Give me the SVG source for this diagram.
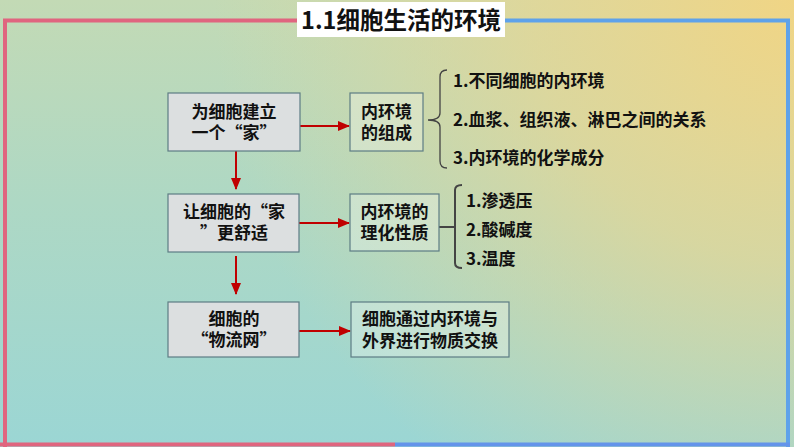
<svg xmlns="http://www.w3.org/2000/svg" width="794" height="447" viewBox="0 0 794 447">
<defs>
<linearGradient id="bg" x1="0" y1="0" x2="0" y2="1">
<stop offset="0" stop-color="#c3dab5"/>
<stop offset="0.45" stop-color="#aed8c4"/>
<stop offset="1" stop-color="#9bd6d4"/>
</linearGradient>
<radialGradient id="yel" cx="794" cy="0" r="580" gradientUnits="userSpaceOnUse">
<stop offset="0" stop-color="#f0d585" stop-opacity="1"/>
<stop offset="0.45" stop-color="#ead690" stop-opacity="0.7"/>
<stop offset="1" stop-color="#e2d79a" stop-opacity="0"/>
</radialGradient>
<marker id="ah" markerWidth="12" markerHeight="10" refX="11" refY="5" orient="auto" markerUnits="userSpaceOnUse">
<path d="M0,0 L12,5 L0,10 Z" fill="#c00000"/>
</marker>
<style>
.t{font-family:"Noto Sans CJK SC","Liberation Sans",sans-serif;font-weight:bold;fill:#111;}
.n{font-size:17px;text-anchor:middle;}
.i{font-size:17px;}
.b1{fill:#dcdfe0;stroke:#5d7c84;stroke-width:1.2;}
.b2{fill:#ffffff;fill-opacity:0.28;stroke:#5d7c84;stroke-width:1.2;}
.c{stroke:#c00000;stroke-width:2;fill:none;}
.br{stroke:#444;fill:none;}
</style>
</defs>
<rect width="794" height="447" fill="url(#bg)"/>
<rect width="794" height="447" fill="url(#yel)"/>
<g id="frame" fill="none" stroke-width="4">
<path d="M300,20.5 L5,20.5 L5,447" stroke="#e0657f"/>
<path d="M0,444.5 L395,444.5" stroke="#e0657f"/>
<path d="M500,20.5 L788,20.5 L788,447" stroke="#5ea2ea"/>
<path d="M395,444.5 L790,444.5" stroke="#6494ea"/>
</g>
<g id="title">
<rect x="297" y="2" width="208" height="35" fill="#ffffff"/>
<text class="t" x="401" y="29" font-size="23.5" font-weight="900" text-anchor="middle">1.1细胞生活的环境</text>
</g>
<g id="connectors">
<line class="c" x1="300" y1="126" x2="349" y2="126" marker-end="url(#ah)"/>
<line class="c" x1="236" y1="151" x2="236" y2="189" marker-end="url(#ah)"/>
<line class="c" x1="299" y1="223" x2="349" y2="223" marker-end="url(#ah)"/>
<line class="c" x1="236" y1="256" x2="236" y2="294" marker-end="url(#ah)"/>
<line class="c" x1="299" y1="331" x2="350" y2="331" marker-end="url(#ah)"/>
<path class="br" stroke-width="1.3" d="M447,70 Q440,70 440,77 L440,113 Q440,120 428,120 Q440,120 440,127 L440,161 Q440,168 447,168"/>
<path class="br" stroke-width="2" d="M439,227 L455,227 M462,185 Q455,185 455,190 L455,263 Q455,268 462,268"/>
</g>
<g id="n1">
<rect class="b1" x="168" y="93" width="132" height="58"/>
<text class="t n" x="234" y="118">为细胞建立</text>
<text class="t n" x="234" y="139">一个“家”</text>
</g>
<g id="n2">
<rect class="b2" x="350" y="93" width="73" height="58"/>
<text class="t n" x="386.5" y="118">内环境</text>
<text class="t n" x="386.5" y="139">的组成</text>
</g>
<g id="n3">
<rect class="b1" x="168" y="194" width="131" height="58"/>
<text class="t n" x="234" y="218">让细胞的“家</text>
<text class="t n" x="234" y="239">”更舒适</text>
</g>
<g id="n4">
<rect class="b2" x="350" y="194" width="89" height="57"/>
<text class="t n" x="394.5" y="218">内环境的</text>
<text class="t n" x="394.5" y="239">理化性质</text>
</g>
<g id="n5">
<rect class="b1" x="168" y="302" width="131" height="55"/>
<text class="t n" x="234" y="325">细胞的</text>
<text class="t n" x="234" y="346">“物流网”</text>
</g>
<g id="n6">
<rect class="b2" x="351" y="302" width="158" height="55"/>
<text class="t n" x="430" y="325">细胞通过内环境与</text>
<text class="t n" x="430" y="347">外界进行物质交换</text>
</g>
<g id="list1">
<text class="t i" x="453" y="87">1.不同细胞的内环境</text>
<text class="t i" x="453" y="126">2.血浆、组织液、淋巴之间的关系</text>
<text class="t i" x="453" y="164">3.内环境的化学成分</text>
</g>
<g id="list2">
<text class="t i" x="466" y="207">1.渗透压</text>
<text class="t i" x="466" y="236">2.酸碱度</text>
<text class="t i" x="466" y="265">3.温度</text>
</g>
</svg>
